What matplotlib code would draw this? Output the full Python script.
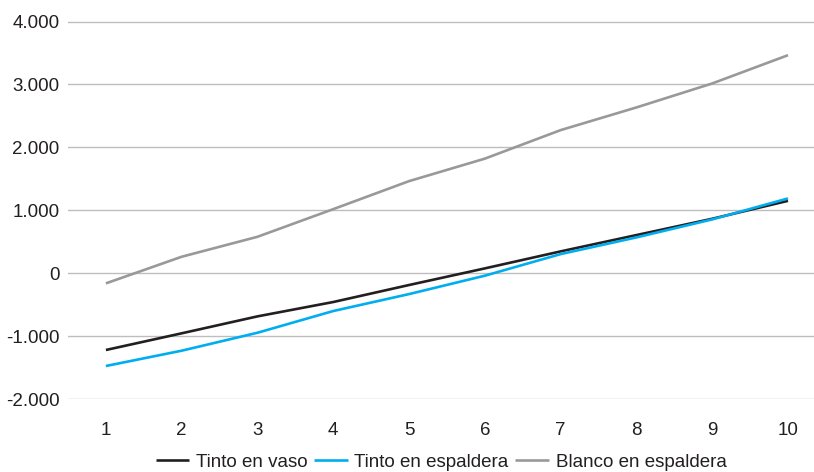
import matplotlib
matplotlib.use("Agg")
import matplotlib.pyplot as plt
from matplotlib.ticker import FuncFormatter

plt.rcParams['font.family'] = ['Liberation Sans', 'DejaVu Sans']

years = [1, 2, 3, 4, 5, 6, 7, 8, 9, 10]
tinto_vaso = [-1217, -952, -683, -455, -185, 79, 349, 608, 867, 1152]
tinto_espaldera = [-1471, -1228, -943, -598, -329, -37, 306, 571, 857, 1190]
blanco_espaldera = [-159, 264, 581, 1020, 1465, 1822, 2275, 2635, 3016, 3465]
y_ticks = [-2000, -1000, 0, 1000, 2000, 3000, 4000]

W, H = 814, 472
fig = plt.figure(figsize=(W / 100, H / 100), dpi=100)
ax = fig.add_axes([68 / W, 1 - 399.3 / H, (814 - 68) / W, (399.3 - 21.5) / H])

ax.plot(years, tinto_vaso, color='#231f20', lw=1.9, label='Tinto en vaso', solid_capstyle='butt')
ax.plot(years, tinto_espaldera, color='#00aeef', lw=1.9, label='Tinto en espaldera', solid_capstyle='butt')
ax.plot(years, blanco_espaldera, color='#999999', lw=1.9, label='Blanco en espaldera', solid_capstyle='butt')

ax.set_ylim(-2000, 4000)
ax.set_xlim(0.5, 10.343)
ax.set_yticks(y_ticks)
ax.set_xticks(years)
ax.yaxis.set_major_formatter(FuncFormatter(lambda v, p: f"{int(v):,}".replace(',', '.')))
ax.grid(axis='y', color='#bdbdbd', lw=1.0)
ax.set_axisbelow(True)
for s in ax.spines.values():
    s.set_visible(False)
ax.tick_params(axis='both', length=0, labelsize=13.5, labelcolor='#231f20')
ax.tick_params(axis='y', pad=6)
ax.tick_params(axis='x', pad=16)

leg = fig.legend(loc='center', bbox_to_anchor=(441 / W, 1 - 462 / H), ncol=3, frameon=False,
                 fontsize=13.5, handlelength=1.8, handletextpad=0.35, columnspacing=0.35)
for t in leg.get_texts():
    t.set_color('#231f20')

fig.savefig('out.png', dpi=100)
